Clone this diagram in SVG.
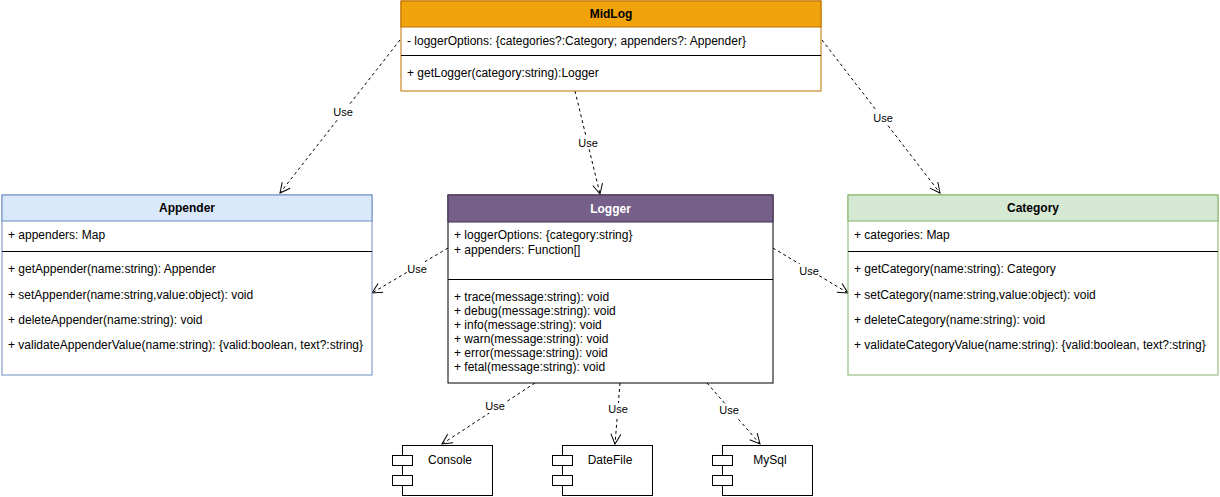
<svg xmlns="http://www.w3.org/2000/svg" width="1220" height="497" viewBox="0 0 1220 497">
<style>
text{font-family:"Liberation Sans",Arial,Helvetica,sans-serif;font-size:12px;fill:#000}
.h{font-weight:bold;text-anchor:middle}
.w{fill:#fff}
.body{fill:#fff}
.div{stroke:#000;stroke-width:1}
.edge{fill:none;stroke:#000;stroke-width:1;stroke-dasharray:3 3}
.lbl{font-size:11px;text-anchor:middle}
.lblbg{fill:#fff}
.comp{fill:#fff;stroke:#000;stroke-width:1}
.ct{text-anchor:middle}
</style>
<defs>
<marker id="open" viewBox="0 0 12 12" refX="11" refY="6" markerWidth="12" markerHeight="12" markerUnits="userSpaceOnUse" orient="auto">
<path d="M1,1 L11,6 L1,11" fill="none" stroke="#000" stroke-width="1"/>
</marker>
</defs>
<g id="connectors">
<g>
<line class="edge" x1="400" y1="40" x2="280" y2="193" marker-end="url(#open)"/>
<rect class="lblbg" x="333" y="105" width="20" height="13"/>
<text class="lbl" x="343" y="116">Use</text>
</g>
<g>
<line class="edge" x1="575" y1="91" x2="600" y2="194" marker-end="url(#open)"/>
<rect class="lblbg" x="578" y="136" width="20" height="13"/>
<text class="lbl" x="588" y="147">Use</text>
</g>
<g>
<line class="edge" x1="822" y1="40" x2="940" y2="193" marker-end="url(#open)"/>
<rect class="lblbg" x="873" y="111" width="20" height="13"/>
<text class="lbl" x="883" y="122">Use</text>
</g>
<g>
<line class="edge" x1="448" y1="248" x2="372" y2="293" marker-end="url(#open)"/>
<rect class="lblbg" x="407" y="262" width="20" height="13"/>
<text class="lbl" x="417" y="273">Use</text>
</g>
<g>
<line class="edge" x1="773" y1="248" x2="848" y2="293" marker-end="url(#open)"/>
<rect class="lblbg" x="799" y="264" width="20" height="13"/>
<text class="lbl" x="809" y="275">Use</text>
</g>
<g>
<line class="edge" x1="535" y1="383" x2="442" y2="444" marker-end="url(#open)"/>
<rect class="lblbg" x="485" y="400" width="20" height="13"/>
<text class="lbl" x="495" y="410">Use</text>
</g>
<g>
<line class="edge" x1="620" y1="383" x2="615" y2="444" marker-end="url(#open)"/>
<rect class="lblbg" x="608" y="403" width="20" height="13"/>
<text class="lbl" x="618" y="413">Use</text>
</g>
<g>
<line class="edge" x1="707" y1="383" x2="760" y2="444" marker-end="url(#open)"/>
<rect class="lblbg" x="719" y="404" width="20" height="13"/>
<text class="lbl" x="729" y="414">Use</text>
</g>
</g>
<g id="MidLog">
<rect x="401" y="1" width="420" height="90" fill="#fff" stroke="#BD7000"/>
<rect x="401" y="1" width="420" height="26" fill="#f0a30a" stroke="#BD7000"/>
<text class="h" x="611" y="18">MidLog</text>
<text x="407" y="45">- loggerOptions: {categories?:Category; appenders?: Appender}</text>
<line class="div" x1="401" y1="55.5" x2="821" y2="55.5"/>
<text x="407" y="77">+ getLogger(category:string):Logger</text>
</g>
<g id="Appender">
<rect x="2" y="195" width="370" height="180" fill="#fff" stroke="#6c8ebf"/>
<rect x="2" y="195" width="370" height="26" fill="#dae8fc" stroke="#6c8ebf"/>
<text class="h" x="187" y="212">Appender</text>
<text x="8" y="239">+ appenders: Map</text>
<line class="div" x1="2" y1="251.5" x2="372" y2="251.5"/>
<text x="8" y="273">+ getAppender(name:string): Appender</text>
<text x="8" y="299">+ setAppender(name:string,value:object): void</text>
<text x="8" y="324">+ deleteAppender(name:string): void</text>
<text x="8" y="349">+ validateAppenderValue(name:string): {valid:boolean, text?:string}</text>
</g>
<g id="Logger">
<rect x="448" y="195" width="325" height="188" fill="#fff" stroke="#000"/>
<rect x="448" y="195" width="325" height="27" fill="#76608a" stroke="#432D57"/>
<text class="h w" x="610.5" y="213" style="fill:#fff">Logger</text>
<text x="454" y="239">+ loggerOptions: {category:string}</text>
<text x="454" y="254">+ appenders: Function[]</text>
<line class="div" x1="448" y1="279.5" x2="773" y2="279.5"/>
<text x="454" y="301">+ trace(message:string): void</text>
<text x="454" y="315">+ debug(message:string): void</text>
<text x="454" y="329">+ info(message:string): void</text>
<text x="454" y="343">+ warn(message:string): void</text>
<text x="454" y="357">+ error(message:string): void</text>
<text x="454" y="371">+ fetal(message:string): void</text>
</g>
<g id="Category">
<rect x="848" y="195" width="370" height="180" fill="#fff" stroke="#82b366"/>
<rect x="848" y="195" width="370" height="26" fill="#d5e8d4" stroke="#82b366"/>
<text class="h" x="1033" y="212">Category</text>
<text x="854" y="239">+ categories: Map</text>
<line class="div" x1="848" y1="251.5" x2="1218" y2="251.5"/>
<text x="854" y="273">+ getCategory(name:string): Category</text>
<text x="854" y="299">+ setCategory(name:string,value:object): void</text>
<text x="854" y="324">+ deleteCategory(name:string): void</text>
<text x="854" y="349">+ validateCategoryValue(name:string): {valid:boolean, text?:string}</text>
</g>
<g id="Console">
<rect class="comp" x="402.5" y="445.5" width="90" height="50"/>
<rect class="comp" x="392.5" y="455.5" width="20" height="10"/>
<rect class="comp" x="392.5" y="475.5" width="20" height="10"/>
<text class="ct" x="450" y="464">Console</text>
</g>
<g id="DateFile">
<rect class="comp" x="562.5" y="445.5" width="90" height="50"/>
<rect class="comp" x="552.5" y="455.5" width="20" height="10"/>
<rect class="comp" x="552.5" y="475.5" width="20" height="10"/>
<text class="ct" x="610" y="464">DateFile</text>
</g>
<g id="MySql">
<rect class="comp" x="722.5" y="445.5" width="90" height="50"/>
<rect class="comp" x="712.5" y="455.5" width="20" height="10"/>
<rect class="comp" x="712.5" y="475.5" width="20" height="10"/>
<text class="ct" x="770" y="464">MySql</text>
</g>
</svg>
